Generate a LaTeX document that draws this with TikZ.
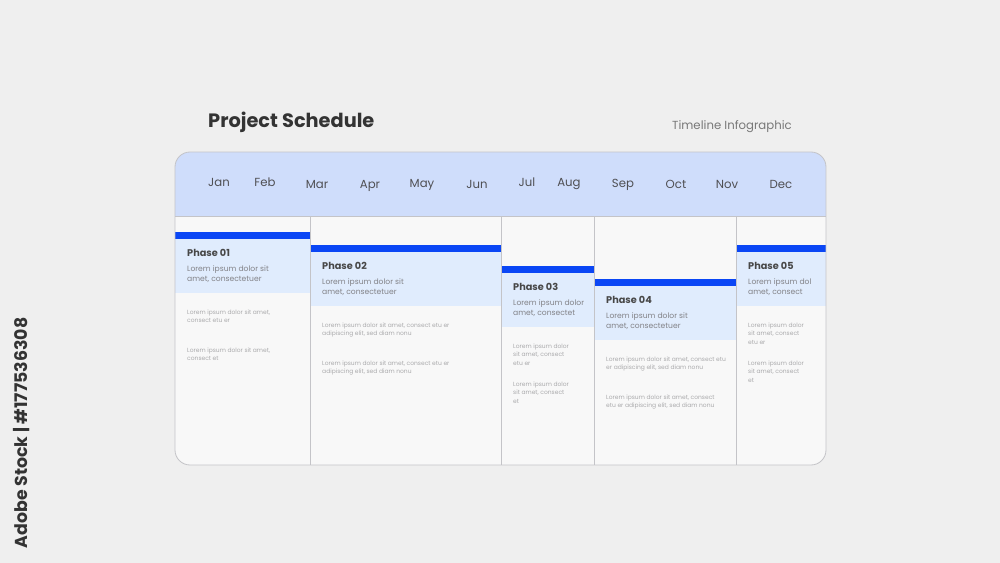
\documentclass[tikz,border=0pt]{standalone}
\usepackage{fontspec}
\setmainfont{Poppins}
\definecolor{bg}{RGB}{239,239,239}
\definecolor{cardfill}{RGB}{248,248,248}
\definecolor{cardline}{RGB}{196,196,200}
\definecolor{header}{RGB}{207,221,251}
\definecolor{phasebox}{RGB}{224,236,253}
\definecolor{bar}{RGB}{10,70,245}
\definecolor{titlec}{RGB}{51,51,51}
\definecolor{monthc}{RGB}{80,80,84}
\definecolor{subc}{RGB}{120,120,120}
\definecolor{lorem}{RGB}{130,130,135}
\definecolor{small}{RGB}{170,170,172}
\tikzset{
  month/.style={anchor=base, inner sep=0, font=\fontsize{10}{12}\selectfont, text=monthc},
  ptitle/.style={anchor=base west, inner sep=0, font=\fontsize{8.3}{10}\selectfont\bfseries, text=titlec!90},
  plorem/.style={anchor=base west, inner sep=0, font=\fontsize{6.5}{8}\selectfont, text=lorem},
  psmall/.style={anchor=base west, inner sep=0, font=\fontsize{5.1}{7}\selectfont, text=small},
  divider/.style={draw=cardline, line width=0.6pt},
}
% #1 name prefix, #2 x, #3 bar top y, #4 right x, #5 title, #6 lorem lines, #7 small block 1, #8 small block 2
\newcommand{\phaseblock}[8]{%
  \fill[phasebox] (#2,#3) rectangle (#4,#3+61);
  \fill[bar] (#2,#3) rectangle (#4,#3+6.5);
  \node[ptitle] (#1-t) at (#2+12,#3+24.5) {#5};
  \foreach \l [count=\i] in {#6} \node[plorem] (#1-l\i) at (#2+12,#3+28.5+10.5*\i) {\l};
  \foreach \l [count=\i] in {#7} \node[psmall] (#1-a\i) at (#2+12,#3+73.5+8.5*\i) {\l};
  \foreach \l [count=\i] in {#8} \node[psmall] (#1-b\i) at (#2+12,#3+111.5+8.5*\i) {\l};
}
\begin{document}
\begin{tikzpicture}[x=0.03cm,y=-0.03cm]
\fill[bg] (0,0) rectangle (1000,563);
\useasboundingbox (0,0) rectangle (1000,563);
% titles
\node[anchor=base west, inner sep=0, font=\fontsize{16.5}{20}\selectfont\bfseries, text=titlec] (title) at (208,127.5) {Project Schedule};
\node[anchor=base east, inner sep=0, font=\fontsize{10}{12}\selectfont, text=subc] (sub) at (792,129.5) {Timeline Infographic};
% watermark label
\node[rotate=90, inner sep=0, font=\fontsize{14.8}{16}\selectfont\bfseries, text=titlec] (stock) at (22,433) {Adobe Stock | \#177536308};
% card
\fill[cardfill, rounded corners=0.45cm] (175,152) rectangle (826,465);
\begin{scope}
  \clip[rounded corners=0.45cm] (175,152) rectangle (826,465);
  \fill[header] (175,152) rectangle (826,216);
  \phaseblock{p1}{175}{232}{310}{Phase 01}{Lorem ipsum dolor sit,{amet, consectetuer}}{{Lorem ipsum dolor sit amet,},consect etu er}{{Lorem ipsum dolor sit amet,},consect et}
  \phaseblock{p2}{310}{245}{501}{Phase 02}{Lorem ipsum dolor sit,{amet, consectetuer}}{{Lorem ipsum dolor sit amet, consect etu er},{adipiscing elit, sed diam nonu}}{{Lorem ipsum dolor sit amet, consect etu er},{adipiscing elit, sed diam nonu}}
  \phaseblock{p3}{501}{266}{594}{Phase 03}{Lorem ipsum dolor,{amet, consectet}}{Lorem ipsum dolor,{sit amet, consect},etu er}{Lorem ipsum dolor,{sit amet, consect},et}
  \phaseblock{p4}{594}{279}{736}{Phase 04}{Lorem ipsum dolor sit,{amet, consectetuer}}{{Lorem ipsum dolor sit amet, consect etu},{er adipiscing elit, sed diam nonu}}{{Lorem ipsum dolor sit amet, consect},{etu er adipiscing elit, sed diam nonu}}
  \phaseblock{p5}{736}{245}{826}{Phase 05}{Lorem ipsum dol,{amet, consect}}{Lorem ipsum dolor,{sit amet, consect},etu er}{Lorem ipsum dolor,{sit amet, consect},et}
\end{scope}
\draw[divider] (175,216) -- (826,216);
\foreach \x in {310,501,594,736} \draw[divider] (\x,216) -- (\x,465);
\draw[cardline, line width=0.7pt, rounded corners=0.45cm] (175,152) rectangle (826,465);
% months
\foreach \m/\x/\y in {Jan/219/182,Feb/265/182,Mar/317/184,Apr/370/184,May/422/183,Jun/477/184,Jul/527/182,Aug/569/182,Sep/623/183,Oct/676/184,Nov/727/184,Dec/781/184}
  \node[month] (m-\m) at (\x,\y+4.3) {\m};
\end{tikzpicture}
\end{document}
